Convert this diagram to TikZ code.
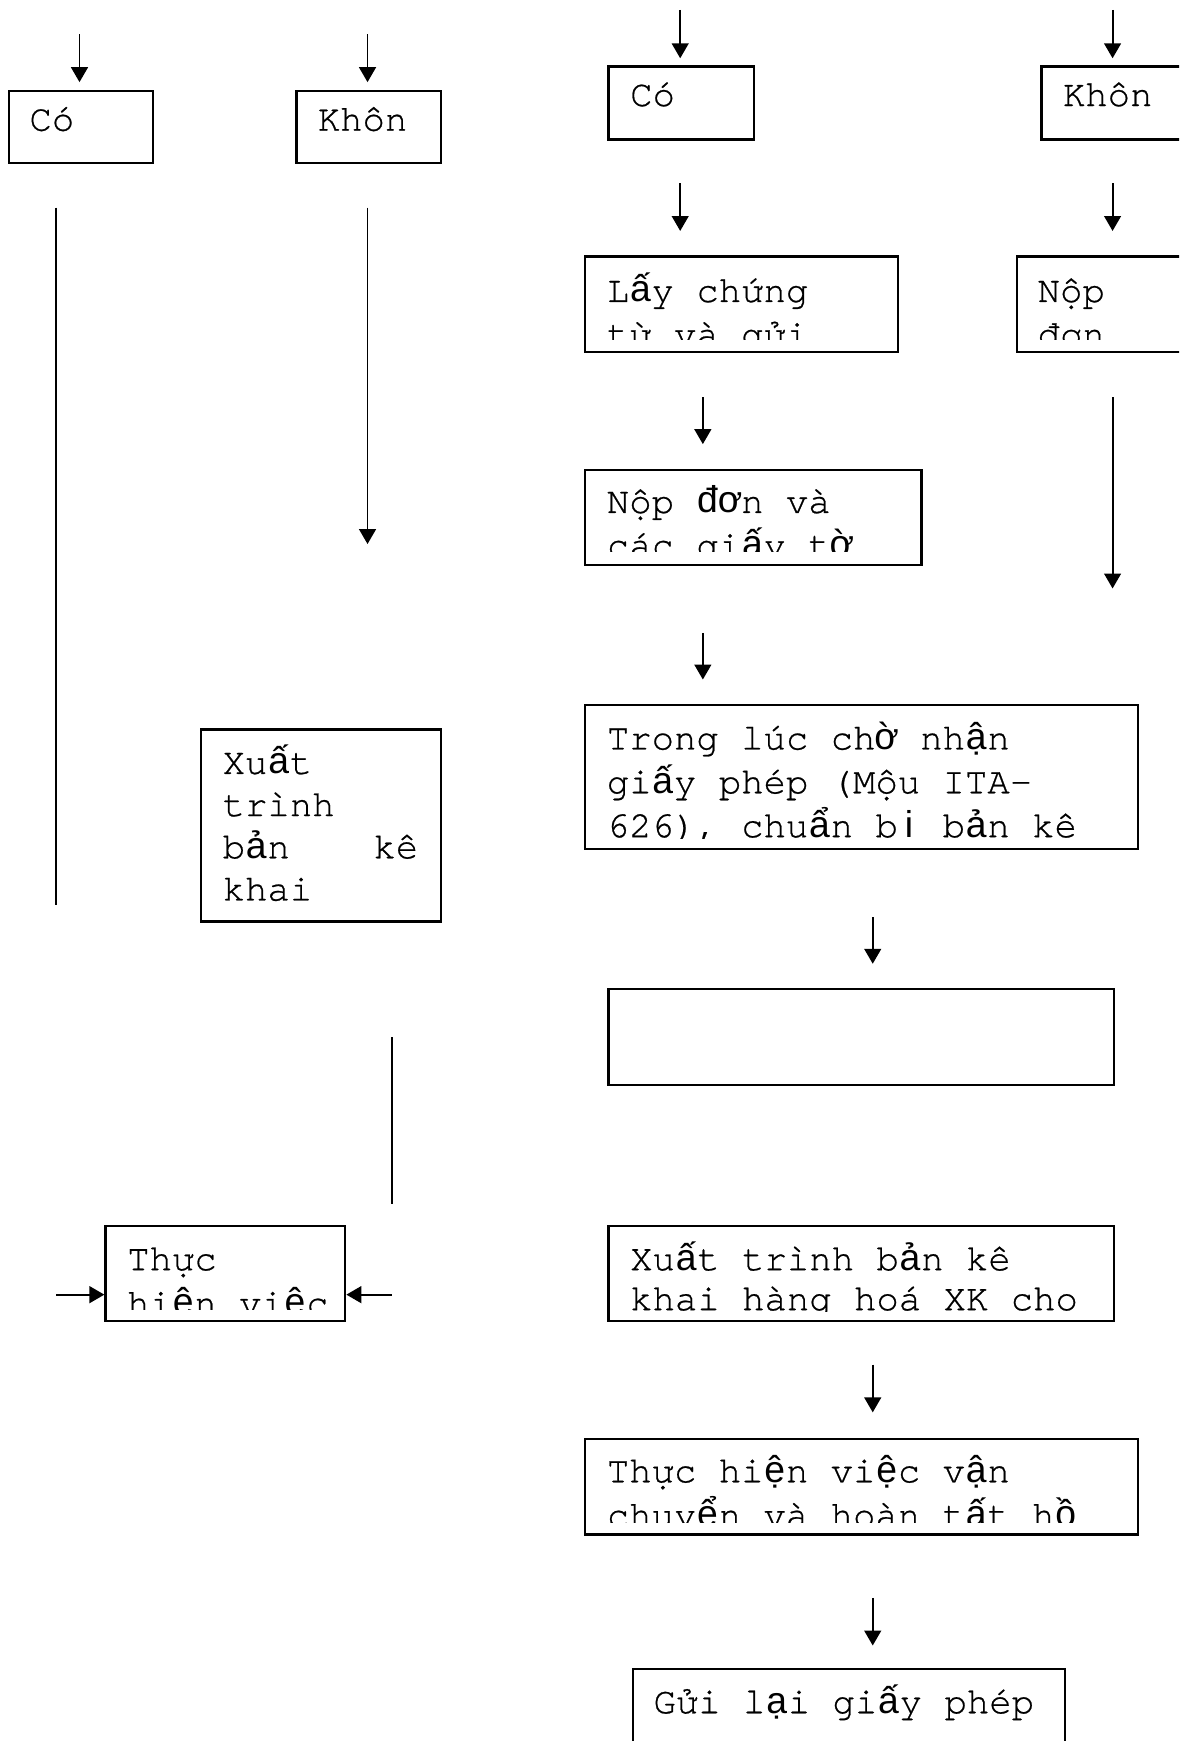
\documentclass[tikz,border=0pt]{standalone}
\usepackage{fontspec}
\setmainfont{texgyrecursor-regular.otf}[FakeBold=0.6]
\newfontfamily\sansvn{Liberation Sans}
\usetikzlibrary{arrows.meta}
\newcommand\vs[1]{\makebox[0.6em]{\sansvn #1}}
\def\un{0.35714pt}
\newcommand\bx[5]{\node[boxst, anchor=north west, minimum width={(#4-#2)*\un}, minimum height={(#5-#3)*\un}] (#1) at (#2,#3) {};}
\begin{document}
\begin{tikzpicture}[x=0.35714pt, y=-0.35714pt,
  boxst/.style={draw=black, line width=0.7pt, inner sep=0pt, fill=none},
  txt/.style={anchor=base west, inner sep=0pt, font=\fontsize{12pt}{14pt}\selectfont},
  arr/.style={line width=0.6pt, -{Triangle[length=4.8pt,width=5.4pt]}},
  ln/.style={line width=0.6pt}]
\clip (0,0) rectangle (1062,1568);
\fill[white] (0,0) rectangle (1062,1568);

% ---------- boxes ----------
\bx{cl}{7}{81}{137}{146}
\bx{kl}{266}{81}{396}{146}
\bx{cr}{547}{59}{678}{124.6}
\bx{kr}{937}{59}{1100}{124.6}
\bx{lay}{526}{230}{807.5}{316}
\bx{nop}{915}{230}{1100}{316}
\bx{nopdon}{526}{422}{829}{508}
\bx{trong}{526}{634}{1024}{764}
\bx{xuatl}{180}{656}{396}{829}
\bx{thucl}{94}{1103}{310}{1189}
\bx{empty}{547}{890}{1002}{976}
\bx{xuatr}{547}{1103}{1002}{1189}
\bx{thucr}{526}{1295}{1024}{1381}
\bx{gui}{569}{1502}{958}{1620}

% ---------- texts ----------
\node[txt] (t1) at (26,117.7) {Có};
\node[txt] (t2) at (285.6,117.7) {Khôn};
\node[txt] (t3) at (567,95.5) {Có};
\node[txt] (t4) at (956.7,95.5) {Khôn};
\begin{scope}
\clip (526,230) rectangle (807.5,306);
\node[txt] (t5a) at (546,272) {L\vs{ấ}y chứng};
\node[txt] (t5b) at (546,311.5) {từ và gửi};
\end{scope}
\begin{scope}
\clip (915,230) rectangle (1100,306);
\node[txt] (t6a) at (934,272) {Nộp};
\node[txt] (t6b) at (934,311.5) {đơn};
\end{scope}
\begin{scope}
\clip (526,422) rectangle (829,497);
\node[txt] (t7a) at (546,462) {Nộp \vs{đ}\vs{ơ}n và};
\node[txt] (t7b) at (546,501.5) {các gi\vs{ấ}y t\vs{ờ}};
\end{scope}
\begin{scope}
\clip (526,634) rectangle (1024,755);
\node[txt] (t8a) at (546,675) {Trong lúc ch\vs{ờ} nh\vs{ậ}n};
\node[txt] (t8b) at (546,714.5) {gi\vs{ấ}y phép (Mộu ITA-};
\node[txt] (t8c) at (546,754) {626), chu\vs{ẩ}n b\vs{ị} b\vs{ả}n kê};
\end{scope}
\node[txt] (t9a) at (200,697) {Xu\vs{ấ}t};
\node[txt] (t9b) at (200,735) {trình};
\node[txt] (t9c) at (200,773) {\makebox[62.9pt][s]{b\vs{ả}n\hfill kê}};
\node[txt] (t9d) at (200,811) {khai};
\begin{scope}
\clip (94,1103) rectangle (310,1179);
\node[txt] (t10a) at (114,1144) {Thực};
\node[txt] (t10b) at (114,1184) {hi\vs{ệ}n vi\vs{ệ}c};
\end{scope}
\begin{scope}
\clip (547,1103) rectangle (1002,1181);
\node[txt] (t12a) at (567,1144) {Xu\vs{ấ}t trình b\vs{ả}n kê};
\node[txt] (t12b) at (567,1180) {khai hàng hoá XK cho};
\end{scope}
\begin{scope}
\clip (526,1295) rectangle (1024,1371);
\node[txt] (t13a) at (546,1335) {Thực hi\vs{ệ}n vi\vs{ệ}c v\vs{ậ}n};
\node[txt] (t13b) at (546,1375) {chuy\vs{ể}n và hoàn t\vs{ấ}t h\vs{ồ}};
\end{scope}
\node[txt] (t14) at (588,1543) {Gửi l\vs{ạ}i gi\vs{ấ}y phép};

% ---------- connector end points ----------
\coordinate (a1s) at (71.6,31);   \coordinate (a1e) at (71.6,74);
\coordinate (a2s) at (331,31);    \coordinate (a2e) at (331,74);
\coordinate (a3s) at (612.6,9);   \coordinate (a3e) at (612.6,52.5);
\coordinate (a4s) at (1002,9);    \coordinate (a4e) at (1002,52.5);
\coordinate (a5s) at (612.6,165); \coordinate (a5e) at (612.6,208);
\coordinate (a6s) at (1002,165);  \coordinate (a6e) at (1002,208);
\coordinate (a7s) at (633,358);   \coordinate (a7e) at (633,400);
\coordinate (a8s) at (1002,358);  \coordinate (a8e) at (1002,530);
\coordinate (a9s) at (633,570);   \coordinate (a9e) at (633,612);
\coordinate (a10s) at (786,826);  \coordinate (a10e) at (786,868);
\coordinate (a11s) at (786,1229); \coordinate (a11e) at (786,1272);
\coordinate (a12s) at (786,1439); \coordinate (a12e) at (786,1482);
\coordinate (l1s) at (50.5,187);  \coordinate (l1e) at (50.5,815);
\coordinate (l2s) at (331,187);   \coordinate (l2e) at (331,490);
\coordinate (l3s) at (353,934);   \coordinate (l3e) at (353,1084);
\coordinate (h1s) at (50.5,1166);
\coordinate (h2s) at (353,1166);

% ---------- connectors ----------
\draw[arr] (a1s) -- (a1e);
\draw[arr] (a2s) -- (a2e);
\draw[arr] (a3s) -- (a3e);
\draw[arr] (a4s) -- (a4e);
\draw[arr] (a5s) -- (a5e);
\draw[arr] (a6s) -- (a6e);
\draw[arr] (a7s) -- (a7e);
\draw[arr] (a8s) -- (a8e);
\draw[arr] (a9s) -- (a9e);
\draw[arr] (a10s) -- (a10e);
\draw[arr] (a11s) -- (a11e);
\draw[arr] (a12s) -- (a12e);
\draw[ln] (l1s) -- (l1e);
\draw[arr] (l2s) -- (l2e);
\draw[ln] (l3s) -- (l3e);
\draw[arr] (h1s) -- (thucl.west |- h1s);
\draw[arr] (h2s) -- (thucl.east |- h2s);
\end{tikzpicture}
\end{document}
